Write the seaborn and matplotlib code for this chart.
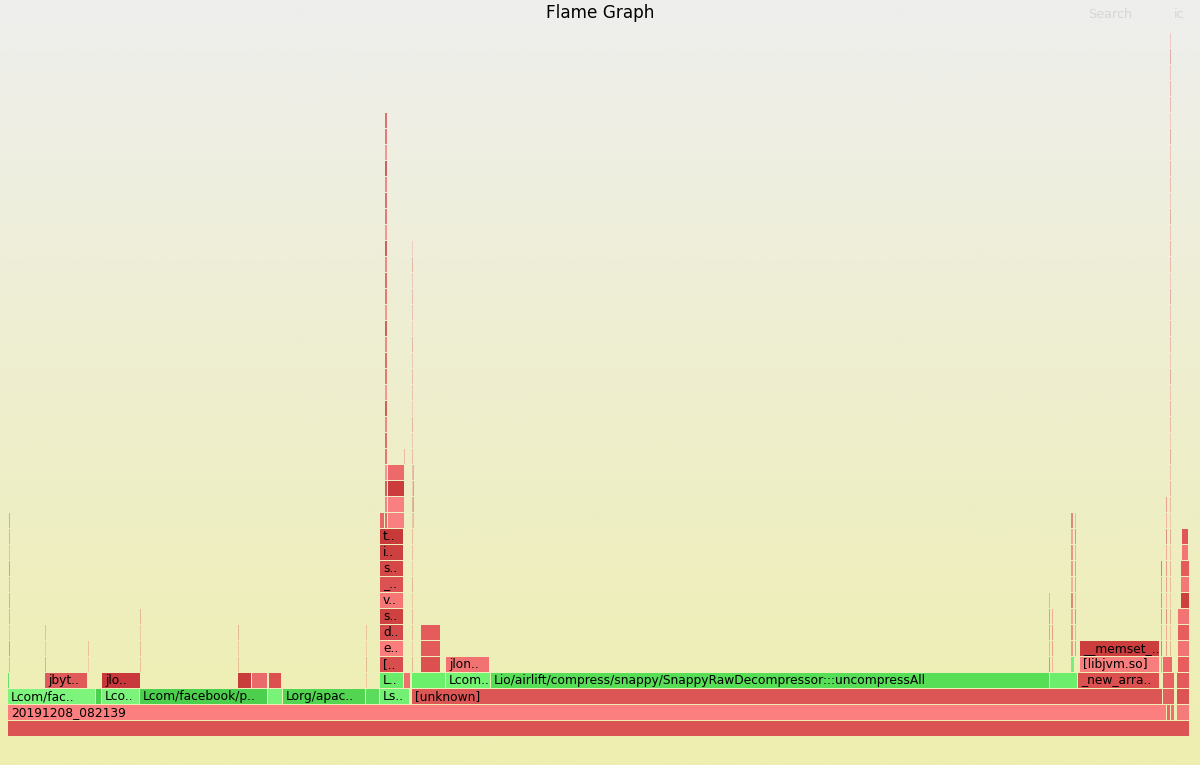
import numpy as np
import pandas as pd
import matplotlib.pyplot as plt
import seaborn as sns

# Flame graph frames: (level, start sample, width in samples, shown label)
base_frames = [
    (0, 0, 1182, ""),
    (1, 0, 1159, "20191208_082139"),
    (1, 1159, 4, ""),
    (1, 1163, 4, ""),
    (1, 1169, 13, ""),
]
base_colors = ["#dc5353", "#fb7f7f", "#e86666", "#f07070", "#f57a7a"]

java_frames = [
    (2, 0, 88, "Lcom/fac.."),
    (2, 88, 6, ""),
    (2, 94, 38, "Lco.."),
    (2, 132, 128, "Lcom/facebook/p.."),
    (2, 260, 15, ""),
    (2, 275, 83, "Lorg/apac.."),
    (2, 358, 14, ""),
    (2, 372, 30, "Ls.."),
    (3, 0, 2, ""),
    (3, 372, 24, "L.."),
    (3, 404, 34, ""),
    (3, 438, 45, "Lcom.."),
    (3, 483, 559, "Lio/airlift/compress/snappy/SnappyRawDecompressor:::uncompressAll"),
    (3, 1042, 28, ""),
    (4, 1063, 4, ""),
]
java_colors = ["#7df57d", "#4bd14b", "#7cf47c", "#4ccf4c", "#78f278", "#52d652",
               "#5cdc5c", "#74f074", "#66e066", "#6aeb6a", "#6cf06c", "#72f472",
               "#56de56", "#6ced6c", "#7aee7a"]

native_frames = [
    (2, 404, 751, "[unknown]"),
    (2, 1155, 12, ""),
    (2, 1169, 13, ""),
    (3, 37, 43, "jbyt.."),
    (3, 94, 39, "jlo.."),
    (3, 230, 14, ""),
    (3, 244, 16, ""),
    (3, 261, 13, ""),
    (3, 396, 7, ""),
    (3, 1070, 82, "_new_arra.."),
    (3, 1155, 12, ""),
    (3, 1169, 13, ""),
    (4, 372, 24, "[.."),
    (4, 413, 20, ""),
    (4, 438, 44, "jlon.."),
    (4, 1072, 80, "[libjvm.so]"),
    (4, 1155, 10, ""),
    (4, 1170, 12, ""),
    (5, 372, 24, "e.."),
    (5, 413, 20, ""),
    (5, 1072, 80, "__memset_.."),
    (5, 1170, 12, ""),
    (6, 372, 24, "d.."),
    (6, 413, 20, ""),
    (6, 1170, 12, ""),
    (7, 372, 24, "s.."),
    (7, 1170, 12, ""),
    (8, 372, 24, "v.."),
    (8, 1173, 9, ""),
    (9, 372, 24, "_.."),
    (9, 1173, 9, ""),
    (10, 372, 24, "s.."),
    (10, 1173, 9, ""),
    (11, 372, 24, "i.."),
    (11, 1174, 7, ""),
    (12, 372, 24, "t.."),
    (12, 1174, 7, ""),
    (13, 372, 5, ""),
    (13, 380, 17, ""),
    (14, 380, 17, ""),
    (15, 380, 17, ""),
    (16, 380, 17, ""),
]
native_colors = ["#dc5656", "#e26060", "#dc5454", "#e05a5a", "#c8383c", "#c83c3c",
                 "#e86a6a", "#dc5050", "#f07070", "#dc5050", "#e86262", "#e25a5a",
                 "#d84e4e", "#dc5050", "#f27272", "#f87e7e", "#ee6a6a", "#e85e5e",
                 "#fa7c7c", "#e25a5a", "#cc3e3e", "#f07474", "#d44a4a", "#e45c5c",
                 "#e65e5e", "#ce4242", "#f27474", "#f67676", "#cc4040", "#dc5252",
                 "#f47878", "#d44848", "#e45c5c", "#cc4040", "#f27676", "#c83a3a",
                 "#e05656", "#e86868", "#f88080", "#f88080", "#cc3c3c", "#ec6a6a"]

# Narrow stacks (x start, width, first level, last level)
thin_towers = [
    (377, 1.6, 13, 38), (396, 1, 17, 17), (403.5, 1, 4, 30), (405, 1, 13, 16),
    (1162, 1.2, 4, 43), (1158, 1, 5, 14), (1153, 1, 4, 10), (1041, 1, 4, 8),
    (1044, 1, 4, 7), (1063, 1.5, 5, 13), (1067, 1, 5, 13), (1, 1, 4, 13),
    (37, 1, 4, 6), (80, 1, 4, 5), (132, 1, 4, 7), (230, 1, 4, 6), (358, 1, 3, 6),
]
tower_shades = ["#dc5050", "#f07070", "#c83c3c", "#f88080", "#e45c5c"]
tower_alpha = [0.8, 0.4, 0.3, 0.5, 0.35, 0.5, 0.6, 0.5, 0.5, 0.55, 0.5, 0.45,
               0.35, 0.3, 0.3, 0.3, 0.3]

sns.set_theme(style="white")
plt.rcParams["font.family"] = ["DejaVu Sans"]

fig = plt.figure(figsize=(12, 7.65), dpi=100)

# background gradient
bg = fig.add_axes([0, 0, 1, 1], zorder=-1)
grad = np.linspace(0, 1, 256)[:, None, None]
top = np.array([238, 238, 238]) / 255
bottom = np.array([238, 238, 176]) / 255
bg.imshow(top + (bottom - top) * grad * np.ones((1, 2, 3)), aspect="auto",
          extent=[0, 1, 0, 1], origin="upper")
bg.axis("off")

ax = fig.add_axes([0, 0, 1, 1])
ax.set_facecolor("none")
ax.set_xlim(-8, 1192)
ax.set_ylim(-29 / 16, (765 - 29) / 16)
ax.axis("off")

row_h = 15 / 16

df = pd.DataFrame(base_frames + java_frames + native_frames,
                  columns=["level", "start", "width", "label"])
df["color"] = base_colors + java_colors + native_colors

ax.barh(df["level"], df["width"] - 0.8, left=df["start"], height=row_h,
        align="edge", color=df["color"], linewidth=0)

for _, r in df.iterrows():
    if r["label"]:
        ax.text(r["start"] + 3, r["level"] + row_h / 2, r["label"],
                va="center", ha="left", fontsize=8.85, color="black")

for i, (x, w, lo, hi) in enumerate(thin_towers):
    levels = np.arange(lo, hi + 1)
    cols = [tower_shades[(k + i) % len(tower_shades)] for k in range(len(levels))]
    ax.barh(levels, w, left=x, height=row_h, align="edge", color=cols,
            alpha=tower_alpha[i], linewidth=0)

fig.text(0.5, 1 - 13 / 765, "Flame Graph", ha="center", va="center",
         fontsize=12.2, color="black")
fig.text(1110 / 1200, 1 - 14 / 765, "Search", ha="center", va="center",
         fontsize=9.2, color="#d6d6d6")
fig.text(1179 / 1200, 1 - 14 / 765, "ic", ha="center", va="center",
         fontsize=9.2, color="#d6d6d6")

fig.savefig("out.png", dpi=100)
